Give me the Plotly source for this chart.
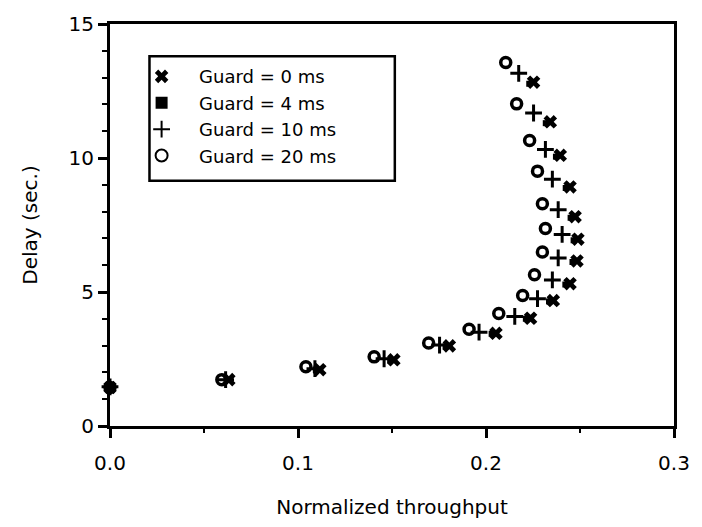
import plotly.graph_objects as go

# Normalized throughput (x) and delay in seconds (y) for each guard time
thr_0ms = [0.0, 0.0632, 0.1116, 0.1510, 0.1805, 0.2053, 0.2237, 0.2358,
           0.2447, 0.2484, 0.2489, 0.2474, 0.2447, 0.2395, 0.2342, 0.2253]
dly_0ms = [1.44, 1.73, 2.10, 2.47, 2.99, 3.46, 4.02, 4.68,
           5.31, 6.16, 6.97, 7.81, 8.92, 10.10, 11.35, 12.83]

thr_4ms = [0.0, 0.0620, 0.1095, 0.1490, 0.1785, 0.2030, 0.2212, 0.2335,
           0.2422, 0.2460, 0.2466, 0.2450, 0.2424, 0.2372, 0.2318, 0.2230]
dly_4ms = [1.42, 1.72, 2.09, 2.45, 2.97, 3.44, 4.00, 4.65,
           5.28, 6.12, 6.93, 7.77, 8.88, 10.05, 11.30, 12.77]

thr_10ms = [0.0, 0.0615, 0.1090, 0.1458, 0.1753, 0.1963, 0.2153, 0.2274,
            0.2353, 0.2384, 0.2405, 0.2384, 0.2353, 0.2316, 0.2253, 0.2174]
dly_10ms = [1.46, 1.73, 2.14, 2.51, 3.02, 3.50, 4.09, 4.75,
            5.45, 6.27, 7.15, 8.07, 9.21, 10.32, 11.68, 13.16]

thr_20ms = [0.0, 0.0595, 0.1042, 0.1405, 0.1695, 0.1910, 0.2068, 0.2195,
            0.2258, 0.2300, 0.2316, 0.2300, 0.2274, 0.2232, 0.2163, 0.2105]
dly_20ms = [1.44, 1.73, 2.21, 2.58, 3.10, 3.61, 4.20, 4.87,
            5.64, 6.49, 7.37, 8.29, 9.51, 10.65, 12.02, 13.56]

labels = ["Guard = 0 ms", "Guard = 4 ms", "Guard = 10 ms", "Guard = 20 ms"]

FONT = "DejaVu Sans"
FS = 20

fig = go.Figure()

fig.add_trace(go.Scatter(
    x=thr_0ms, y=dly_0ms, mode="markers", name=labels[0],
    marker=dict(symbol="x", size=12, color="black", line=dict(width=0)),
    cliponaxis=False,
))
fig.add_trace(go.Scatter(
    x=thr_4ms, y=dly_4ms, mode="markers", name=labels[1],
    marker=dict(symbol="square", size=6, color="black"),
    cliponaxis=False,
))
fig.add_trace(go.Scatter(
    x=thr_10ms, y=dly_10ms, mode="markers", name=labels[2],
    marker=dict(symbol="cross-thin", size=12, color="black",
                line=dict(width=3, color="black")),
    cliponaxis=False,
))
fig.add_trace(go.Scatter(
    x=thr_20ms, y=dly_20ms, mode="markers", name=labels[3],
    marker=dict(symbol="circle-open", size=10, color="black",
                line=dict(width=3.5, color="black")),
    cliponaxis=False,
))

# Legend frame, drawn in paper coordinates around the legend entries
fig.add_shape(type="rect", xref="paper", yref="paper",
              x0=0.070, x1=0.505, y0=0.610, y1=0.920,
              line=dict(color="black", width=2.5), fillcolor="rgba(0,0,0,0)",
              layer="above")

fig.update_layout(
    width=702, height=527,
    margin=dict(l=110, r=22, t=20, b=100),
    paper_bgcolor="white", plot_bgcolor="white",
    font=dict(family=FONT, size=FS, color="black"),
    showlegend=True,
    legend=dict(
        x=0.025, y=0.915, xanchor="left", yanchor="top",
        borderwidth=0, bgcolor="rgba(0,0,0,0)",
        font=dict(family=FONT, size=18, color="black"),
        itemsizing="constant", itemwidth=65,
    ),
    xaxis=dict(
        range=[0, 0.3], tickvals=[0.0, 0.1, 0.2, 0.3],
        ticktext=["0.0", "0.1", "0.2", "0.3"],
        showgrid=False, zeroline=False,
        showline=True, linecolor="black", linewidth=3, mirror=True,
        ticks="outside", ticklen=9, tickwidth=2.5, tickcolor="black",
        ticklabelstandoff=8,
        minor=dict(dtick=0.05, ticks="outside", ticklen=4, tickwidth=2,
                   tickcolor="black", showgrid=False),
        title=dict(text="Normalized throughput", standoff=26,
                   font=dict(family=FONT, size=FS, color="black")),
        tickfont=dict(family=FONT, size=FS, color="black"),
    ),
    yaxis=dict(
        range=[0, 15], tickvals=[0, 5, 10, 15],
        showgrid=False, zeroline=False,
        showline=True, linecolor="black", linewidth=3, mirror=True,
        ticks="outside", ticklen=9, tickwidth=2.5, tickcolor="black",
        minor=dict(dtick=1, ticks="outside", ticklen=5, tickwidth=2,
                   tickcolor="black", showgrid=False),
        title=dict(text="Delay (sec.)", standoff=26,
                   font=dict(family=FONT, size=FS, color="black")),
        tickfont=dict(family=FONT, size=FS, color="black"),
    ),
)

fig.write_html("out.html")
